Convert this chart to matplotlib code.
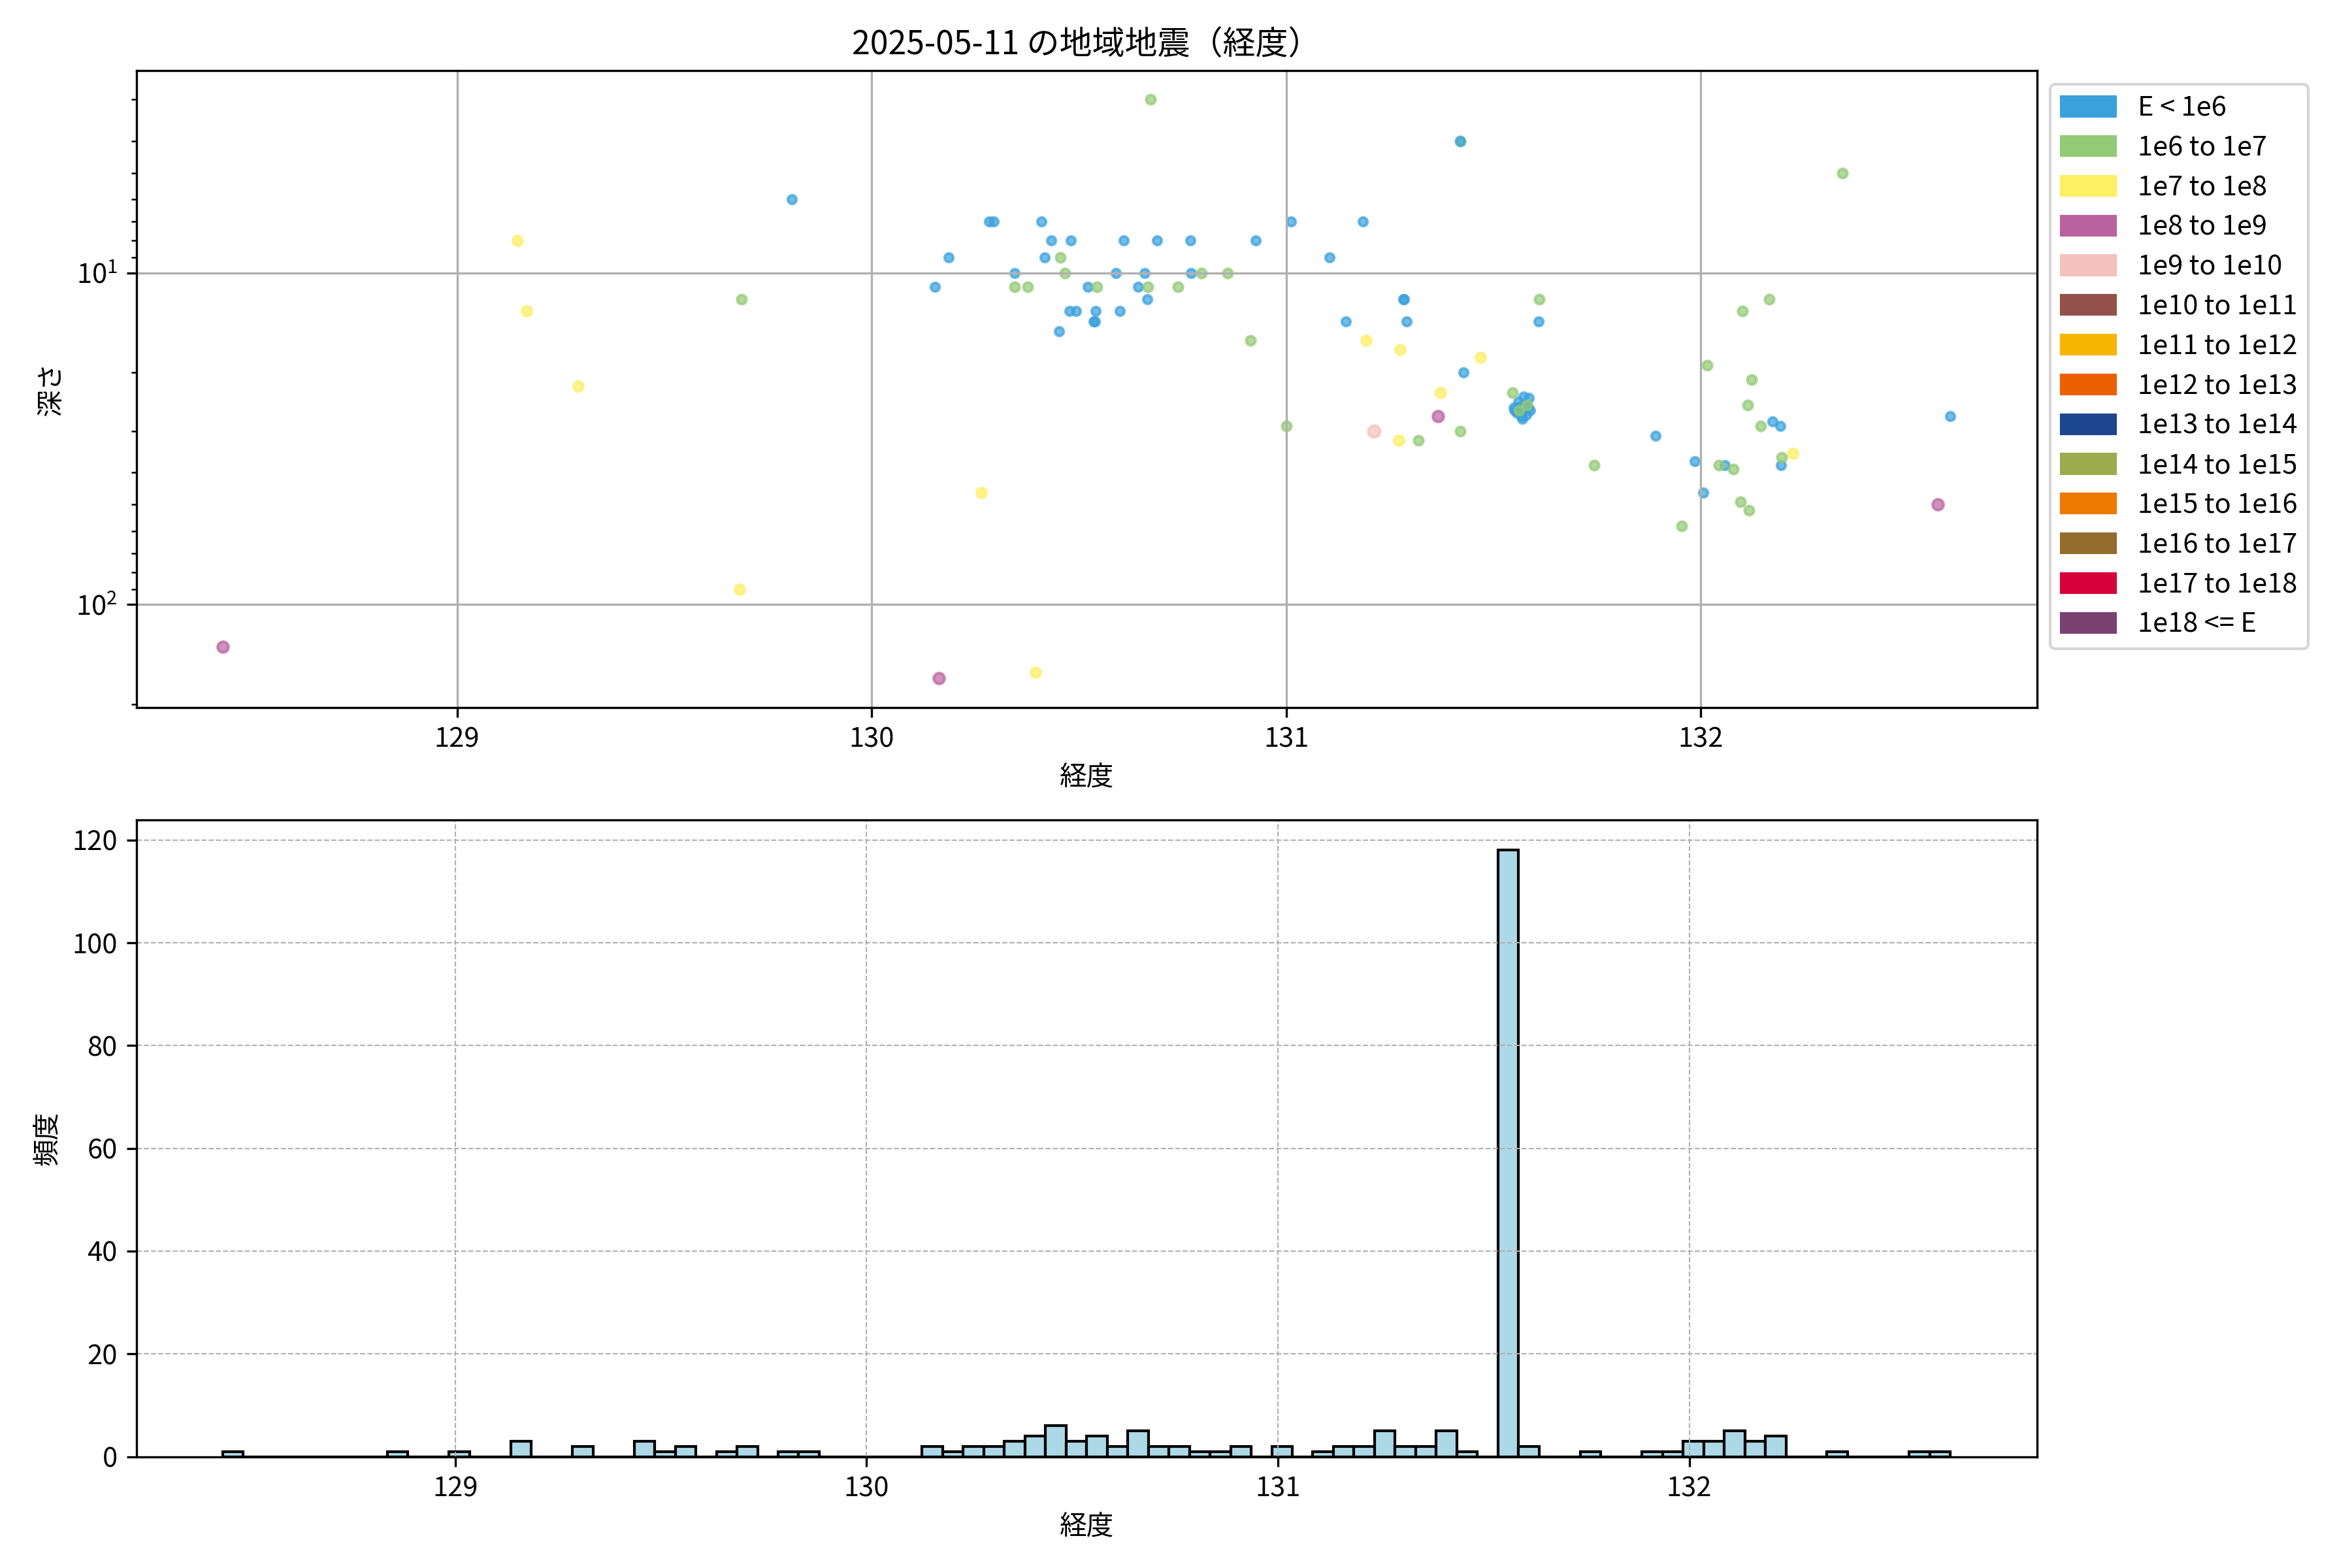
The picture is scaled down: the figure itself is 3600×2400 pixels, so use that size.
import matplotlib
matplotlib.use('Agg')
import matplotlib.pyplot as plt
from matplotlib.patches import Patch
import numpy as np

plt.rcParams['font.family'] = ['Noto Sans CJK JP', 'DejaVu Sans']

title = '2025-05-11 の地域地震（経度）'

# energy classes
class_labels = ['E < 1e6', '1e6 to 1e7', '1e7 to 1e8', '1e8 to 1e9', '1e9 to 1e10',
                '1e10 to 1e11', '1e11 to 1e12', '1e12 to 1e13', '1e13 to 1e14',
                '1e14 to 1e15', '1e15 to 1e16', '1e16 to 1e17', '1e17 to 1e18',
                '1e18 <= E']
class_colors = ['#3AA1DC', '#93CA76', '#FEEF63', '#BA62A0', '#F6C0BD',
                '#94504A', '#F8B500', '#EB6101', '#1C4690', '#9BAB4D',
                '#EE7800', '#946C2B', '#D7003A', '#7A4171']
class_sizes = [10, 11.5, 13, 16, 19, 22, 25, 28, 31, 34, 37, 40, 43, 46]

# scatter data: longitude, depth (km), per energy class
lon_blue = [129.807, 130.283, 130.294, 130.409, 131.012, 131.185, 130.433, 130.481,
            130.608, 130.688, 130.769, 130.927, 130.186, 130.418, 131.105, 130.345,
            130.589, 130.659, 130.770, 130.153, 130.521, 130.643, 130.665, 131.282,
            131.284, 130.478, 130.493, 130.540, 130.599, 130.536, 130.538, 131.144,
            131.291, 131.609, 130.452, 131.427,
            131.572, 131.585, 131.562, 131.551, 131.588, 131.567, 131.556, 131.578,
            131.560, 131.575, 131.583, 131.565, 131.570, 131.548,
            132.172, 132.192, 132.602, 131.891, 131.986, 132.058, 132.193, 132.005]
dep_blue = [6, 7, 7, 7, 7, 7, 8, 8,
            8, 8, 8, 8, 9, 9, 9, 10,
            10, 10, 10, 11, 11, 11, 12, 12,
            12, 13, 13, 13, 13, 14, 14, 14,
            14, 14, 15, 20,
            23.6, 23.8, 25.4, 26, 26, 27, 26.5, 26.8,
            24.5, 25, 25.5, 26, 27.5, 25.5,
            28, 29, 27, 31, 37, 38, 38, 46]

lon_green = [129.686, 130.672, 131.419, 130.455, 130.466, 130.795, 130.859, 130.345,
             130.377, 130.543, 130.667, 130.739, 131.610, 130.914, 131.546, 131.580,
             131.562, 131.419, 131.318, 131.000, 132.341, 132.165, 132.101, 132.015,
             132.122, 132.113, 132.145, 131.742, 132.044, 132.079, 132.195, 132.095,
             132.116, 131.954]
dep_green = [12, 3, 4, 9, 10, 10, 10, 11,
             11, 11, 11, 11, 12, 16, 23, 25,
             26, 30, 32, 29, 5, 12, 13, 19,
             21, 25, 29, 38, 38, 39, 36, 49,
             52, 58]

# blue event drawn over the green one at the same spot
lon_blue_top = [131.419]
dep_blue_top = [4]

lon_yellow = [129.146, 129.168, 129.292, 129.681, 131.193, 131.274, 131.468, 131.372,
              131.272, 130.265, 130.396, 132.222]
dep_yellow = [8, 13, 22, 90, 16, 17, 18, 23, 32, 46, 160, 35]

lon_purple = [128.435, 131.366, 130.162, 132.572]
dep_purple = [134, 27, 167, 50]

lon_pink = [131.212]
dep_pink = [30]

lons_by_class = [lon_blue, lon_green, lon_yellow, lon_purple, lon_pink]
deps_by_class = [dep_blue, dep_green, dep_yellow, dep_purple, dep_pink]

# histogram: 0.05 degree bins starting at the westmost event
bin_start = 128.435
bin_width = 0.05
hist_counts = [1, 0, 0, 0, 0, 0, 0, 0, 1, 0, 0, 1, 0, 0, 3, 0, 0, 2, 0, 0,
               3, 1, 2, 0, 1, 2, 0, 1, 1, 0, 0, 0, 0, 0, 2, 1, 2, 2, 3, 4,
               6, 3, 4, 2, 5, 2, 2, 1, 1, 2, 0, 2, 0, 1, 2, 2, 5, 2, 2, 5,
               1, 0, 118, 2, 0, 0, 1, 0, 0, 1, 1, 3, 3, 5, 3, 4, 0, 0, 1, 0,
               0, 0, 1, 1]

fig, (ax1, ax2) = plt.subplots(2, 1, figsize=(12, 8))
fig.subplots_adjust(left=0.058, right=0.866, top=0.955, bottom=0.071, hspace=0.177)

# Top — depth vs longitude
for i, (lo, de) in enumerate(zip(lons_by_class, deps_by_class)):
    ax1.scatter(lo, de, s=class_sizes[i], color=class_colors[i], alpha=0.7)
ax1.scatter(lon_blue_top, dep_blue_top, s=class_sizes[0], color=class_colors[0], alpha=0.7)
ax1.set_yscale('log')
ax1.invert_yaxis()
ax1.set_title(title, fontsize=12)
ax1.set_xlabel('経度')
ax1.set_ylabel('深さ')
ax1.grid(True)
ax1.set_xticks([129, 130, 131, 132])
handles = [Patch(color=c, label=l) for c, l in zip(class_colors, class_labels)]
ax1.legend(handles=handles, loc='upper left', bbox_to_anchor=(1, 1), fontsize=10,
           labelspacing=0.475)

# Bottom — histogram of longitude
edges = bin_start + bin_width * np.arange(len(hist_counts) + 1)
ax2.hist(edges[:-1], bins=edges, weights=hist_counts, color='lightblue',
         edgecolor='black', linewidth=1)
ax2.set_xlabel('経度')
ax2.set_ylabel('頻度')
ax2.set_xticks([129, 130, 131, 132])
ax2.grid(True, linestyle='--', linewidth=0.5)

plt.savefig('out.png', dpi=300)
